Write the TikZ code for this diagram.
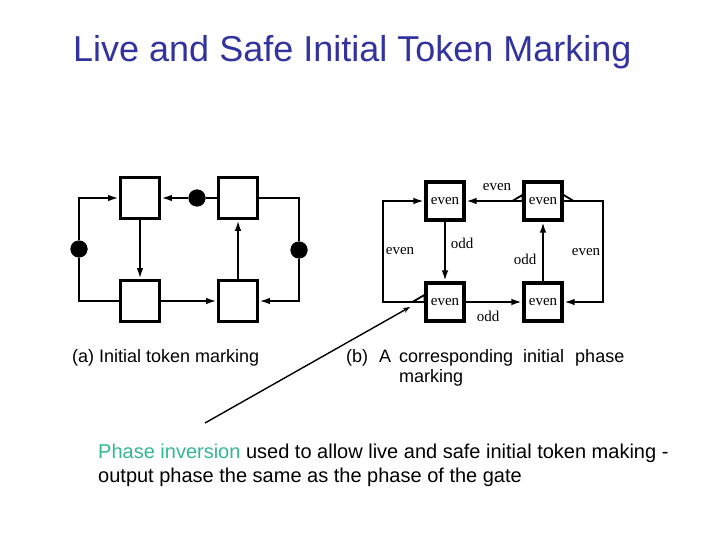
\documentclass[tikz,border=0pt]{standalone}
\usepackage{fontspec}
\setmainfont{Liberation Sans}
\newfontfamily\labelfont{Liberation Serif}
\usetikzlibrary{arrows.meta,positioning}

\definecolor{titleblue}{RGB}{51,51,160}
\definecolor{phasegreen}{RGB}{51,183,150}

\begin{document}
\begin{tikzpicture}[x=1pt,y=-1pt,
  gate/.style={draw,line width=2.8pt,minimum width=39pt,minimum height=41pt,inner sep=0pt},
  pgate/.style={draw,line width=3.2pt,minimum width=38pt,minimum height=38pt,inner sep=0pt,
    font=\labelfont\fontsize{15}{15}\selectfont},
  token/.style={circle,fill,inner sep=0pt,minimum size=17pt},
  wire/.style={line width=2.8pt,-{Latex[length=11pt,width=6.5pt]}},
  wedge/.style={line width=1.8pt,line join=miter},
  phase/.style={font=\labelfont\fontsize{15}{15}\selectfont,inner sep=1pt}]
\useasboundingbox (0,0) rectangle (720,540);

% title
\node[anchor=base west,inner sep=0pt,text=titleblue,font=\fontsize{36}{40}\selectfont]
  (title) at (73,62) {Live and Safe Initial Token Marking};

% (a) gates
\node[gate] (a1) at (140,198) {};
\node[gate] (a2) at (238,198) {};
\node[gate] (a3) at (140,301) {};
\node[gate] (a4) at (238,301) {};
% (a) tokens
\node[token] (ta) at (79,249) {};
\node[token] (tb) at (197,198) {};
\node[token] (tc) at (299,250) {};
% (a) connections
\draw[wire] (a3.west) -| (ta) |- (a1.west);
\draw[wire] (a2.west) -- (tb) -- (a1.east);
\draw[wire] (a1.south) -- (a3.north);
\draw[wire] (a3.east) -- (a4.west);
\draw[wire] (a4.north) -- (a2.south);
\draw[wire] (a2.east) -| (tc) |- (a4.east);
\node[token] at (ta) {};
\node[token] at (tb) {};
\node[token] at (tc) {};
\node[anchor=base west,inner sep=0pt,font=\fontsize{18}{20}\selectfont]
  (capa) at (72,362) {(a) Initial token marking};

% (b) gates with phases
\node[pgate] (b1) at (445,201) {even};
\node[pgate] (b2) at (543,201) {even};
\node[pgate] (b3) at (445,302) {even};
\node[pgate] (b4) at (543,302) {even};
\coordinate (bl) at (383,251);
\coordinate (br) at (603,251);
% (b) connections
\draw[wire] (b3.west) -| (bl) |- (b1.west);
\draw[wire] (b2.west) -- (b1.east);
\draw[wire] (b1.south) -- (b3.north);
\draw[wire] (b3.east) -- (b4.west);
\draw[wire] (b4.north) -- (b2.south);
\draw[wire] (b2.east) -| (br) |- (b4.east);
% phase inversion marks
\draw[wedge] (b2.west) ++(-10,0) -- ++(10,-6) -- ++(0,6);
\draw[wedge] (b2.east) ++(0,-6) -- ++(10,6) -- ++(-10,0);
\draw[wedge] (b3.west) ++(-12,0) -- ++(12,-7) -- ++(0,7);
% wire phases
\node[phase] (p1) at (400,251) {even};
\node[phase] (p2) at (497,187) {even};
\node[phase] (p3) at (462,243) {odd};
\node[phase] (p4) at (488,316) {odd};
\node[phase] (p5) at (525,259) {odd};
\node[phase] (p6) at (586,252) {even};
\node[anchor=base west,inner sep=0pt,align=left,font=\fontsize{18}{20}\selectfont]
  (capb) at (346,382) {\makebox[53pt][l]{(b)\hspace{11pt}A}corresponding\hspace{10pt}initial\hspace{11pt}phase\\
  \hspace*{53pt}marking};

% pointer to the inversion mark
\coordinate (ps) at (205,423);
\coordinate (pe) at (410,307);
\draw[line width=1.4pt,-{Stealth[length=7pt,width=5pt]}] (ps) -- (pe);

% remark
\node[anchor=base west,inner sep=0pt,align=left,font=\fontsize{20}{24}\selectfont]
  (note) at (98,482) {\textcolor{phasegreen}{Phase inversion} used to allow live and safe initial token making -\\
  output phase the same as the phase of the gate};
\end{tikzpicture}
\end{document}
